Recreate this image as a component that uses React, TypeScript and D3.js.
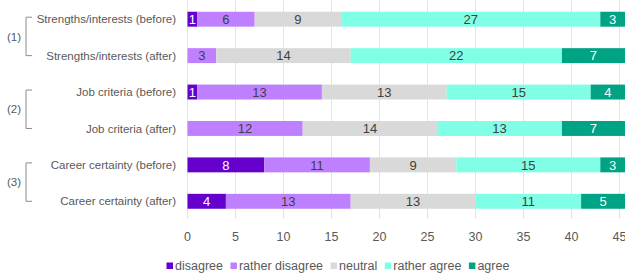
import React, { useEffect, useRef } from "react";
import * as d3 from "d3";

const categories = [
  "Strengths/interests (before)",
  "Strengths/interests (after)",
  "Job criteria (before)",
  "Job criteria (after)",
  "Career certainty (before)",
  "Career certainty (after)",
];
const groups = ["(1)", "(2)", "(3)"];
const seriesNames = ["disagree", "rather disagree", "neutral", "rather agree", "agree"];
const disagree = [1, 0, 1, 0, 8, 4];
const ratherDisagree = [6, 3, 13, 12, 11, 13];
const neutral = [9, 14, 13, 14, 9, 13];
const ratherAgree = [27, 22, 15, 13, 15, 11];
const agree = [3, 7, 4, 7, 3, 5];
const xTicks = [0, 5, 10, 15, 20, 25, 30, 35, 40, 45];

const COLORS = ["#6600cc", "#bf80ff", "#d9d9d9", "#80ffe6", "#00a383"];
const LABEL_COLORS = ["#ffffff", "#404040", "#404040", "#404040", "#ffffff"];
const WIDTH = 625;
const HEIGHT = 273;
const FONT = "Liberation Sans, Arial, sans-serif";

export default function App() {
  const svgRef = useRef<SVGSVGElement | null>(null);

  useEffect(() => {
    const svg = d3.select(svgRef.current);
    svg.selectAll("*").remove();

    const values = [disagree, ratherDisagree, neutral, ratherAgree, agree];
    const rows = categories.map((c, i) => {
      const r: any = { cat: c };
      seriesNames.forEach((s, k) => (r[s] = values[k][i]));
      return r;
    });
    const stacked = d3.stack<any>().keys(seriesNames)(rows);

    const x = d3.scaleLinear().domain([0, 45]).range([187.5, 619.5]);
    const y = d3
      .scaleBand<string>()
      .domain(categories)
      .range([1, 219.5])
      .paddingInner(0.59)
      .paddingOuter(0.295);

    // gridlines
    svg
      .append("g")
      .selectAll("line")
      .data(xTicks)
      .join("line")
      .attr("x1", (d) => x(d))
      .attr("x2", (d) => x(d))
      .attr("y1", 0)
      .attr("y2", 219)
      .attr("stroke", "#e3e3e3")
      .attr("stroke-width", 1);

    // bars
    const layers = svg
      .append("g")
      .selectAll("g")
      .data(stacked)
      .join("g")
      .attr("fill", (_, k) => COLORS[k]);
    layers
      .selectAll("rect")
      .data((d) => d)
      .join("rect")
      .attr("x", (d) => x(d[0]))
      .attr("y", (d) => y(d.data.cat)!)
      .attr("width", (d) => x(d[1]) - x(d[0]))
      .attr("height", y.bandwidth());

    // value labels
    stacked.forEach((layer, k) => {
      svg
        .append("g")
        .selectAll("text")
        .data(layer.filter((d) => d[1] - d[0] > 0))
        .join("text")
        .attr("x", (d) => (x(d[0]) + Math.min(x(d[1]), WIDTH)) / 2)
        .attr("y", (d) => y(d.data.cat)! + y.bandwidth() / 2)
        .attr("dy", "0.36em")
        .attr("text-anchor", "middle")
        .attr("font-family", FONT)
        .attr("font-size", 13)
        .attr("fill", LABEL_COLORS[k])
        .text((d) => d[1] - d[0]);
    });

    // category labels
    svg
      .append("g")
      .selectAll("text")
      .data(categories)
      .join("text")
      .attr("x", 176)
      .attr("y", (d) => y(d)! + y.bandwidth() / 2)
      .attr("dy", "0.36em")
      .attr("text-anchor", "end")
      .attr("font-family", FONT)
      .attr("font-size", 11.5)
      .attr("fill", "#595959")
      .text((d) => d);

    // group brackets
    groups.forEach((g, i) => {
      const top = y(categories[i * 2])! + y.bandwidth() / 2 - 2;
      const bot = y(categories[i * 2 + 1])! + y.bandwidth() / 2;
      svg
        .append("path")
        .attr("d", `M32,${top}H26V${bot}H32`)
        .attr("fill", "none")
        .attr("stroke", "#8c8c8c")
        .attr("stroke-width", 1);
      svg
        .append("text")
        .attr("x", 14)
        .attr("y", (top + bot) / 2)
        .attr("dy", "0.36em")
        .attr("text-anchor", "middle")
        .attr("font-family", FONT)
        .attr("font-size", 11.5)
        .attr("fill", "#595959")
        .text(g);
    });

    // x tick labels
    svg
      .append("g")
      .selectAll("text")
      .data(xTicks)
      .join("text")
      .attr("x", (d) => x(d))
      .attr("y", 236)
      .attr("dy", "0.36em")
      .attr("text-anchor", "middle")
      .attr("font-family", FONT)
      .attr("font-size", 12.5)
      .attr("fill", "#595959")
      .text((d) => d);

    // legend
    const legend = svg.append("g");
    let lx = 166.5;
    seriesNames.forEach((s, k) => {
      legend
        .append("rect")
        .attr("x", lx)
        .attr("y", 262.5)
        .attr("width", 6.5)
        .attr("height", 6.5)
        .attr("fill", COLORS[k]);
      const t = legend
        .append("text")
        .attr("x", lx + 8.5)
        .attr("y", 265.5)
        .attr("dy", "0.36em")
        .attr("font-family", FONT)
        .attr("font-size", 12.5)
        .attr("fill", "#595959")
        .text(s);
      const w = (t.node() as SVGTextElement).getComputedTextLength();
      lx += 8.5 + w + 7.5;
    });
  }, []);

  return (
    <svg
      ref={svgRef}
      width={WIDTH}
      height={HEIGHT}
      style={{ position: "absolute", left: 0, top: 0, background: "#fff" }}
    />
  );
}
